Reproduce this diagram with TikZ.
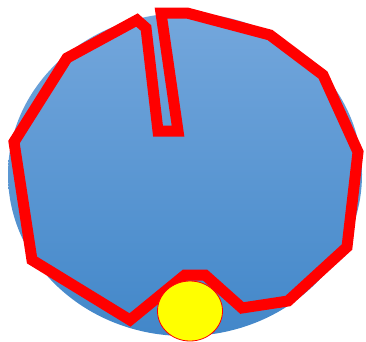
\documentclass[tikz,border=0pt]{standalone}
\usetikzlibrary{shapes.geometric}
\definecolor{topblue}{RGB}{116,167,220}
\definecolor{botblue}{RGB}{66,135,201}
\definecolor{pathred}{RGB}{255,0,0}
\definecolor{ballyellow}{RGB}{255,255,0}
\tikzset{
  face/.style={top color=topblue, bottom color=botblue, draw=none},
  track/.style={draw=pathred, line width=11pt, line join=miter, miter limit=10},
  ball/.style={fill=ballyellow, draw=pathred, line width=0.8pt}
}
\begin{document}
\begin{tikzpicture}[x=1pt,y=-1pt]
\useasboundingbox (0,0) rectangle (366,341);
\shade[face] (185,174.5) ellipse [x radius=177, y radius=161.5];
\coordinate (A) at (14,142);
\coordinate (B) at (32,260);
\coordinate (C) at (130,320);
\coordinate (D) at (185,275);
\coordinate (E) at (205,275);
\coordinate (F) at (242,308);
\coordinate (G) at (288,301);
\coordinate (H) at (347,247);
\coordinate (I) at (358,152);
\coordinate (J) at (323,75);
\coordinate (K) at (270,35);
\coordinate (L) at (187,13);
\coordinate (M) at (161,13);
\coordinate (N) at (178,131);
\coordinate (O) at (158,131);
\coordinate (P) at (146,28);
\coordinate (Q) at (137,20);
\coordinate (R) at (67,58);
\draw[track] (A) -- (B) -- (C) -- (D) -- (E) -- (F) -- (G) -- (H) -- (I) -- (J) -- (K) -- (L) -- (M) -- (N) -- (O) -- (P) -- (Q) -- (R) -- cycle;
\node[ball, ellipse, minimum width=65pt, minimum height=60pt, inner sep=0pt] (ball) at (190,311) {};
\end{tikzpicture}
\end{document}
